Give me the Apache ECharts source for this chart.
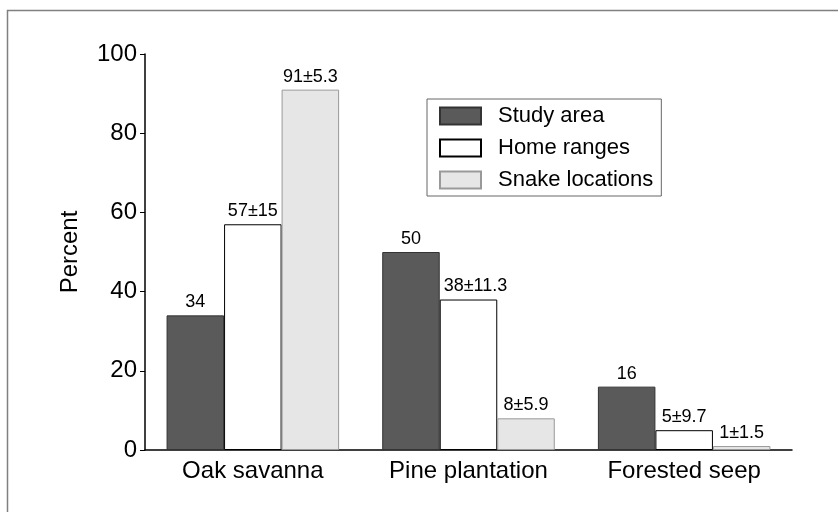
<!DOCTYPE html>
<html><head><meta charset="utf-8">
<script src="https://cdn.jsdelivr.net/npm/echarts@6/dist/echarts.min.js"></script>
<style>html,body{margin:0;padding:0;background:#fff}#c{width:838px;height:512px}</style>
</head><body><div id="c"></div>
<script>
var categories = ['Oak savanna', 'Pine plantation', 'Forested seep'];
var seriesNames = ['Study area', 'Home ranges', 'Snake locations'];
var studyArea = [34, 50, 16];
var homeRanges = [57, 38, 5];
var snakeLocations = [91, 8, 1];
var studyLabels = ['34', '50', '16'];
var homeLabels = ['57±15', '38±11.3', '5±9.7'];
var snakeLabels = ['91±5.3', '8±5.9', '1±1.5'];
var yTicks = [0, 20, 40, 60, 80, 100];

var FONT = '"Liberation Sans", Arial, sans-serif';
var chart = echarts.init(document.getElementById('c'), null, {renderer: 'canvas'});
function mk(name, vals, labels, fill, stroke) {
  return {
    name: name, type: 'bar', barGap: 0, barCategoryGap: '20%',
    data: vals.map(function (v, i) {
      var lab = {formatter: labels[i]};
      if (labels[i].length > 6) lab.offset = [7, 0];
      return {value: v, label: lab};
    }),
    itemStyle: {color: fill, borderColor: stroke, borderWidth: 1},
    label: {show: true, position: 'top', distance: 4, color: '#000', fontSize: 18, fontFamily: FONT},
    emphasis: {disabled: true}
  };
}
chart.setOption({
  animation: false,
  backgroundColor: '#fff',
  textStyle: {fontFamily: FONT},
  graphic: [{type: 'rect', shape: {x: 7.5, y: 10.5, width: 1000, height: 1000}, style: {fill: 'none', stroke: '#808080', lineWidth: 1.5}, silent: true}],
  grid: {left: 145, right: 46, top: 54, bottom: 62},
  legend: {
    orient: 'vertical', left: 427, top: 99,
    data: seriesNames.map(function (n) { return {name: n, icon: 'rect'}; }),
    borderColor: '#666', borderWidth: 1,
    padding: [6, 8, 5, 12],
    itemWidth: 41, itemHeight: 17, itemGap: 10,
    textStyle: {fontSize: 22, color: '#000', fontFamily: FONT, padding: [0, 0, 0, 12]},
    selectedMode: false
  },
  xAxis: {
    type: 'category', data: categories,
    axisLine: {lineStyle: {color: '#000', width: 1.5}},
    axisTick: {show: false},
    axisLabel: {fontSize: 24, color: '#000', margin: 9, fontFamily: FONT}
  },
  yAxis: {
    type: 'value', min: 0, max: 100, interval: 20,
    name: 'Percent', nameLocation: 'middle', nameGap: 63,
    nameTextStyle: {fontSize: 24, color: '#000', fontFamily: FONT},
    axisLine: {show: true, lineStyle: {color: '#000', width: 1.5}},
    axisTick: {show: true, length: 5, lineStyle: {color: '#000'}},
    axisLabel: {fontSize: 24, color: '#000', margin: 8, fontFamily: FONT,
      formatter: function (v) { return yTicks.indexOf(v) >= 0 ? String(v) : ''; }},
    splitLine: {show: false}
  },
  series: [
    mk(seriesNames[0], studyArea, studyLabels, '#5a5a5a', '#333'),
    mk(seriesNames[1], homeRanges, homeLabels, '#ffffff', '#000'),
    mk(seriesNames[2], snakeLocations, snakeLabels, '#e6e6e6', '#999')
  ]
});
</script></body></html>
